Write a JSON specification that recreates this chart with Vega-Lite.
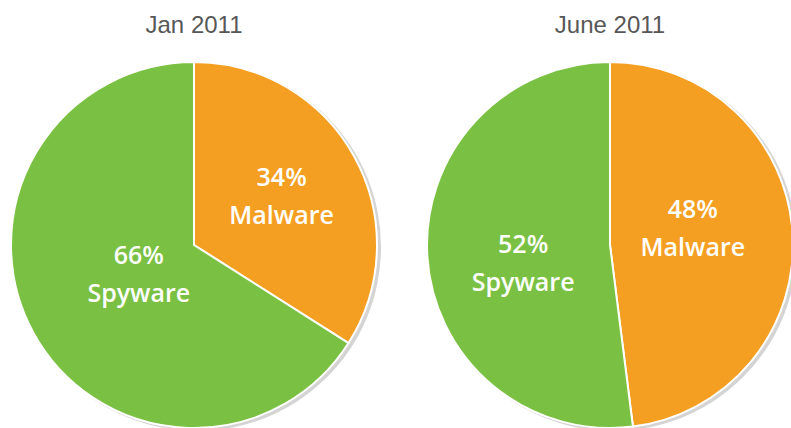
{
  "$schema": "https://vega.github.io/schema/vega-lite/v6.json",
  "padding": {"top": 14, "left": 0, "right": 0, "bottom": 0},
  "background": "white",
  "data": {"values": [
    {"period": "Jan 2011", "type": "Malware", "value": 34},
    {"period": "Jan 2011", "type": "Spyware", "value": 66},
    {"period": "June 2011", "type": "Malware", "value": 48},
    {"period": "June 2011", "type": "Spyware", "value": 52}
  ]},
  "transform": [{"calculate": "[datum.value + '%', datum.type]", "as": "label"}],
  "spacing": 28,
  "config": {
    "view": {"stroke": null},
    "title": {"fontSize": 24, "font": "Liberation Sans", "fontWeight": "normal", "color": "#575757", "anchor": "middle", "baseline": "alphabetic", "offset": 20}
  },
  "hconcat": [
    {
      "title": "Jan 2011",
      "width": 388,
      "height": 366,
      "transform": [{"filter": "datum.period === 'Jan 2011'"}],
      "layer": [
        {
          "mark": {"type": "arc", "outerRadius": 184, "color": "#d4d4d4", "xOffset": 3, "yOffset": 2},
          "encoding": {"theta": {"aggregate": "sum", "field": "value", "type": "quantitative"}}
        },
        {
          "mark": {"type": "arc", "outerRadius": 183, "stroke": "white", "strokeWidth": 2},
          "encoding": {
            "theta": {"field": "value", "type": "quantitative", "stack": true},
            "color": {"field": "type", "type": "nominal", "legend": null,
              "scale": {"domain": ["Malware", "Spyware"], "range": ["#F59F22", "#7AC143"]}}
          }
        },
        {
          "mark": {"type": "text", "font": "Open Sans", "fontSize": 25, "fontWeight": 600, "color": "white", "lineHeight": 38, "baseline": "middle", "align": "center",
            "radius": {"expr": "datum.type === 'Malware' ? 100 : 63"}, "dy": -19},
          "encoding": {
            "theta": {"field": "value", "type": "quantitative", "stack": true},
            "text": {"field": "label"}
          }
        }
      ]
    },
    {
      "title": "June 2011",
      "width": 388,
      "height": 366,
      "transform": [{"filter": "datum.period === 'June 2011'"}],
      "layer": [
        {
          "mark": {"type": "arc", "outerRadius": 184, "color": "#d4d4d4", "xOffset": 3, "yOffset": 2},
          "encoding": {"theta": {"aggregate": "sum", "field": "value", "type": "quantitative"}}
        },
        {
          "mark": {"type": "arc", "outerRadius": 183, "stroke": "white", "strokeWidth": 2},
          "encoding": {
            "theta": {"field": "value", "type": "quantitative", "stack": true},
            "color": {"field": "type", "type": "nominal", "legend": null,
              "scale": {"domain": ["Malware", "Spyware"], "range": ["#F59F22", "#7AC143"]}}
          }
        },
        {
          "mark": {"type": "text", "font": "Open Sans", "fontSize": 25, "fontWeight": 600, "color": "white", "lineHeight": 38, "baseline": "middle", "align": "center",
            "radius": {"expr": "datum.type === 'Malware' ? 83 : 87"},
            "dy": {"expr": "datum.type === 'Malware' ? -30 : -5"}},
          "encoding": {
            "theta": {"field": "value", "type": "quantitative", "stack": true},
            "text": {"field": "label"}
          }
        }
      ]
    }
  ]
}
